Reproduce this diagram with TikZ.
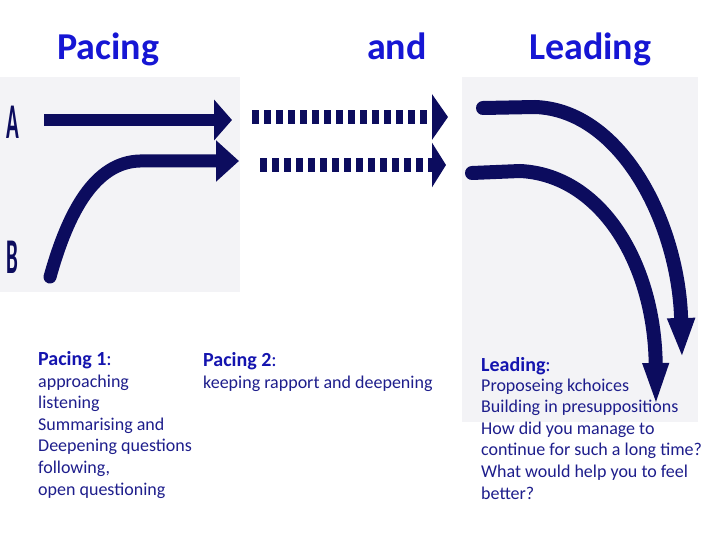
\documentclass[tikz,border=0pt]{standalone}
\usepackage{fontspec}
\setmainfont{Carlito}
\usetikzlibrary{arrows.meta}
\definecolor{navy}{RGB}{12,12,94}
\definecolor{titleblue}{RGB}{22,22,212}
\definecolor{textblue}{RGB}{30,30,140}
\definecolor{headblue}{RGB}{20,20,175}
\definecolor{panel}{RGB}{243,243,246}
\newcommand{\listhead}[1]{{\fontsize{20}{21.6}\selectfont\color{headblue}\textbf{#1}:}}

\begin{document}
\begin{tikzpicture}[x=1pt,y=-1pt,
    title/.style={anchor=base west, inner sep=0, text=titleblue, font=\fontsize{38}{44}\selectfont\bfseries},
    letter/.style={anchor=base west, inner sep=0, text=navy, font=\fontsize{50}{50}\selectfont\bfseries},
    list/.style={anchor=base west, inner sep=0, align=left, text=textblue, font=\fontsize{18}{21.6}\selectfont},
    bar/.style={navy, line width=#1}]
        \useasboundingbox (0,0) rectangle (720,540);
        \fill [white] (0,0) rectangle (720,540);
        \fill [panel] (0,77) rectangle (240,292);
        \fill [panel] (462,77) rectangle (698,422);

        \node [title] (pacing) at (57,60) {Pacing};
        \node [title] (and) at (367,60) {and};
        \node [title] (leading) at (529,60) {Leading};

        \node [letter] (A) at (6,139) {\scalebox{0.42}[1]{A}};
        \node [letter] (B) at (6,273) {\scalebox{0.42}[1]{B}};

        % pacing arrows
        \coordinate (a0) at (44,120);
        \coordinate (a1) at (232,120);
        \coordinate (b0) at (50,277);
        \coordinate (b1) at (140,161);
        \coordinate (b2) at (239,161);
        \draw [bar=12pt, -{Triangle[length=18pt,width=40pt]}] (a0) -- (a1);
        \draw [bar=13pt, line cap=round, -{Triangle[length=23pt,width=40pt]}] (b0) .. controls (68,212) and (95,162) .. (b1) -- (b2);

        % dashed arrows
        \coordinate (c0) at (252,117);
        \coordinate (c1) at (448,117);
        \coordinate (d0) at (260,165);
        \coordinate (d1) at (446,165);
        \draw [bar=14pt, dash pattern=on 7pt off 5pt, -{Triangle[length=16pt,width=45pt]}] (c0) -- (c1);
        \draw [bar=14pt, dash pattern=on 7pt off 5pt, -{Triangle[length=14pt,width=44pt]}] (d0) -- (d1);

        % leading arrows
        \coordinate (e0) at (483,108);
        \coordinate (e1) at (535,107);
        \coordinate (e2) at (682,358);
        \coordinate (f0) at (472,173);
        \coordinate (f1) at (520,171);
        \coordinate (f2) at (656,407);
        \draw [bar=14pt, line cap=round, -{Triangle[length=40pt,width=25pt]}] (e0) -- (e1) .. controls (622,110) and (679,225) .. (e2);
        \draw [bar=14pt, line cap=round, -{Triangle[length=44pt,width=23pt]}] (f0) -- (f1) .. controls (602,175) and (655,265) .. (f2);

        % texts (base = last line)
        \node [list] (pace1) at (38,495) {\listhead{Pacing 1}\\approaching\\listening\\Summarising and\\Deepening questions\\following,\\open questioning};
        \node [list] (pace2) at (203,388) {\listhead{Pacing 2}\\keeping rapport and deepening};
        \node [list] (lead) at (481,499) {\listhead{Leading}\\[-1.6pt]Proposeing kchoices\\Building in presuppositions\\How did you manage to\\continue for such a long time?\\What would help you to feel\\better?};
    \end{tikzpicture}
\end{document}
